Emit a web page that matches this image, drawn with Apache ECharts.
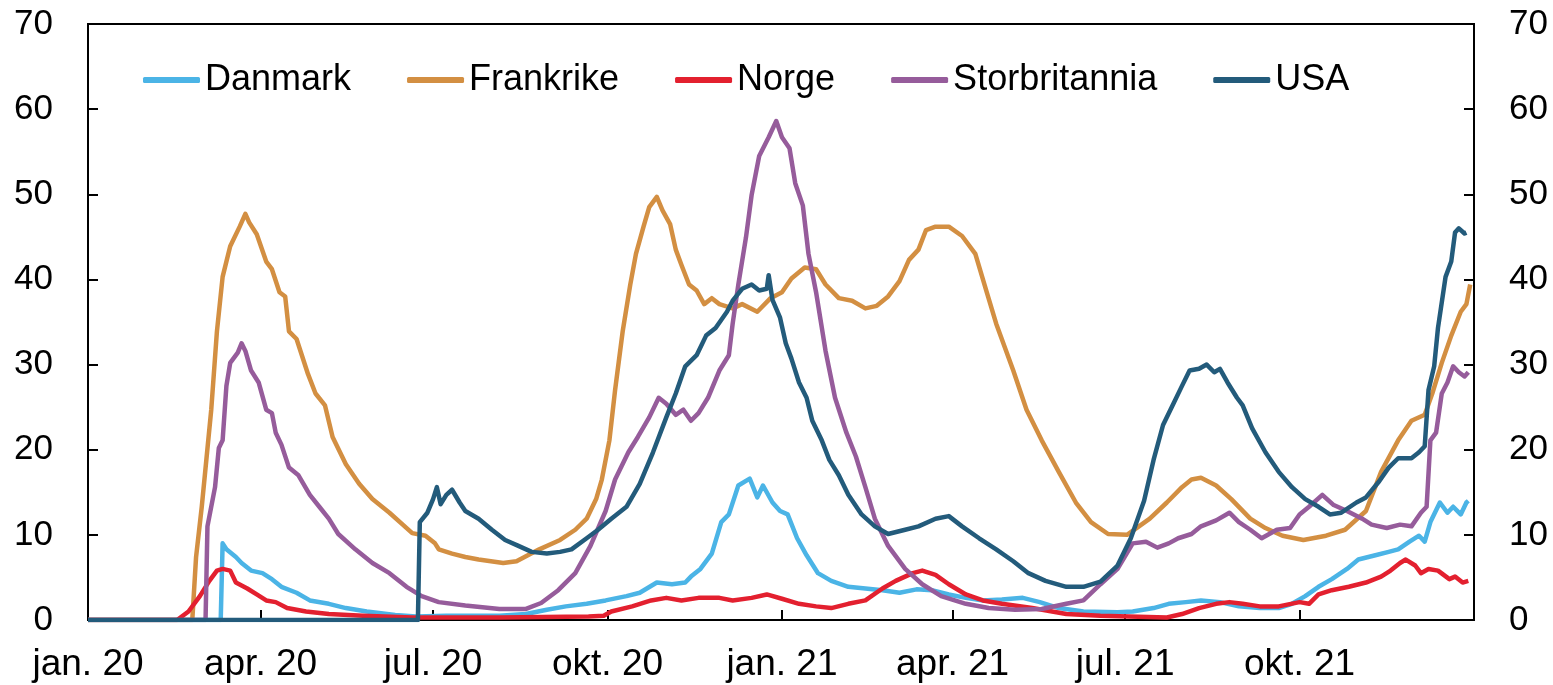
<!DOCTYPE html>
<html>
<head>
<meta charset="utf-8">
<script src="https://cdn.jsdelivr.net/npm/echarts@6/dist/echarts.min.js"></script>
<style>
  html, body { margin: 0; padding: 0; background: #fff; }
  #chart { width: 1553px; height: 685px; }
</style>
</head>
<body>
<div id="chart"></div>
<script>
// series names and colours
const names = ['Danmark', 'Frankrike', 'Norge', 'Storbritannia', 'USA'];
const colors = ['#4bb4e6', '#d38f42', '#e3202f', '#965c9b', '#235b7b'];

// x tick dates and their labels
const tickDates = ['2020-01-01', '2020-04-01', '2020-07-01', '2020-10-01',
                   '2021-01-01', '2021-04-01', '2021-07-01', '2021-10-01'];
const tickLabels = ['jan. 20', 'apr. 20', 'jul. 20', 'okt. 20',
                    'jan. 21', 'apr. 21', 'jul. 21', 'okt. 21'];

const danmark = [
  ['2020-01-01',0],['2020-03-11',0],['2020-03-12',9.0],['2020-03-14',8.3],['2020-03-19',7.4],['2020-03-22',6.7],
  ['2020-03-27',5.8],['2020-04-02',5.5],['2020-04-07',4.8],['2020-04-12',3.9],['2020-04-20',3.2],['2020-04-27',2.3],
  ['2020-05-07',1.9],['2020-05-16',1.4],['2020-05-27',1.0],['2020-06-11',0.6],['2020-06-22',0.4],['2020-07-08',0.5],
  ['2020-08-05',0.5],['2020-08-19',0.7],['2020-08-30',1.2],['2020-09-09',1.6],['2020-09-20',1.9],['2020-09-30',2.3],
  ['2020-10-11',2.8],['2020-10-18',3.2],['2020-10-27',4.4],['2020-11-04',4.2],['2020-11-11',4.4],['2020-11-14',5.1],
  ['2020-11-19',6.0],['2020-11-25',7.8],['2020-11-30',11.5],['2020-12-04',12.4],['2020-12-09',15.8],['2020-12-15',16.6],
  ['2020-12-19',14.4],['2020-12-22',15.8],['2020-12-27',13.8],['2020-12-31',12.8],['2021-01-04',12.4],['2021-01-09',9.6],
  ['2021-01-14',7.6],['2021-01-20',5.5],['2021-01-27',4.6],['2021-02-05',3.9],['2021-02-14',3.7],['2021-02-23',3.5],
  ['2021-03-04',3.2],['2021-03-13',3.6],['2021-03-21',3.5],['2021-03-30',3.0],['2021-04-08',2.6],['2021-04-17',2.3],
  ['2021-04-27',2.4],['2021-05-08',2.6],['2021-05-17',2.1],['2021-05-27',1.4],['2021-06-09',1.0],['2021-06-27',0.9],
  ['2021-07-05',1.0],['2021-07-16',1.4],['2021-07-24',1.9],['2021-08-02',2.1],['2021-08-10',2.3],['2021-08-20',2.1],
  ['2021-08-30',1.6],['2021-09-10',1.4],['2021-09-20',1.4],['2021-09-27',1.9],['2021-10-04',2.8],['2021-10-11',3.9],
  ['2021-10-18',4.8],['2021-10-26',6.0],['2021-11-01',7.1],['2021-11-10',7.6],['2021-11-17',8.0],['2021-11-22',8.3],
  ['2021-11-28',9.2],['2021-12-03',9.9],['2021-12-06',9.2],['2021-12-09',11.5],['2021-12-14',13.8],['2021-12-18',12.6],
  ['2021-12-21',13.3],['2021-12-25',12.4],['2021-12-28',13.8],['2021-12-29',14.0]
];

const frankrike = [
  ['2020-01-01',0],['2020-02-25',0],['2020-02-27',7.4],['2020-03-01',13.3],['2020-03-06',24.7],['2020-03-09',33.9],
  ['2020-03-12',40.3],['2020-03-16',43.9],['2020-03-21',46.2],['2020-03-24',47.7],['2020-03-26',46.7],['2020-03-30',45.3],
  ['2020-04-04',42.1],['2020-04-07',41.2],['2020-04-11',38.5],['2020-04-14',38.0],['2020-04-16',33.9],['2020-04-20',33.0],
  ['2020-04-26',28.9],['2020-04-30',26.6],['2020-05-05',25.2],['2020-05-09',21.5],['2020-05-16',18.3],['2020-05-23',16.0],
  ['2020-05-30',14.2],['2020-06-08',12.6],['2020-06-15',11.2],['2020-06-20',10.2],['2020-06-27',9.9],['2020-07-02',9.0],
  ['2020-07-04',8.3],['2020-07-11',7.8],['2020-07-18',7.4],['2020-07-25',7.1],['2020-08-07',6.7],['2020-08-14',6.9],
  ['2020-08-26',8.3],['2020-09-06',9.4],['2020-09-14',10.6],['2020-09-20',11.9],['2020-09-25',14.2],['2020-09-28',16.5],
  ['2020-10-02',21.1],['2020-10-05',27.0],['2020-10-09',33.9],['2020-10-13',39.4],['2020-10-16',43.0],['2020-10-20',46.2],
  ['2020-10-23',48.5],['2020-10-27',49.7],['2020-10-30',48.1],['2020-11-03',46.5],['2020-11-06',43.5],['2020-11-09',41.7],
  ['2020-11-13',39.4],['2020-11-17',38.7],['2020-11-21',37.1],['2020-11-25',37.8],['2020-11-29',37.1],['2020-12-06',36.6],
  ['2020-12-11',37.1],['2020-12-19',36.2],['2020-12-26',37.8],['2021-01-01',38.5],['2021-01-06',40.1],['2021-01-13',41.4],
  ['2021-01-19',41.2],['2021-01-24',39.4],['2021-01-31',37.8],['2021-02-07',37.5],['2021-02-14',36.6],['2021-02-20',36.9],
  ['2021-02-26',38.0],['2021-03-04',39.8],['2021-03-09',42.3],['2021-03-14',43.5],['2021-03-18',45.8],['2021-03-23',46.2],
  ['2021-03-30',46.2],['2021-04-06',45.1],['2021-04-13',43.0],['2021-04-19',38.5],['2021-04-24',34.8],['2021-05-03',29.3],
  ['2021-05-10',24.7],['2021-05-18',21.1],['2021-05-27',17.4],['2021-06-05',13.8],['2021-06-13',11.5],['2021-06-22',10.1],
  ['2021-07-02',10.0],['2021-07-14',11.9],['2021-07-23',13.8],['2021-07-31',15.6],['2021-08-05',16.5],['2021-08-10',16.7],
  ['2021-08-18',15.8],['2021-08-26',14.2],['2021-09-05',11.9],['2021-09-13',10.8],['2021-09-22',9.9],['2021-10-03',9.4],
  ['2021-10-15',9.9],['2021-10-25',10.6],['2021-11-05',12.8],['2021-11-13',17.4],['2021-11-22',21.1],['2021-11-29',23.4],
  ['2021-12-06',24.1],['2021-12-10',26.6],['2021-12-15',30.2],['2021-12-20',33.4],['2021-12-25',36.2],['2021-12-28',37.1],
  ['2021-12-30',39.4]
];

const norge = [
  ['2020-01-01',0],['2020-02-17',0],['2020-02-23',1.0],['2020-02-29',2.8],['2020-03-05',4.6],['2020-03-09',5.8],
  ['2020-03-12',6.0],['2020-03-16',5.8],['2020-03-19',4.4],['2020-03-25',3.7],['2020-03-30',3.0],['2020-04-04',2.3],
  ['2020-04-09',2.1],['2020-04-15',1.4],['2020-04-25',1.0],['2020-05-07',0.7],['2020-05-25',0.5],['2020-06-20',0.3],
  ['2020-08-05',0.3],['2020-09-21',0.4],['2020-09-29',0.5],['2020-10-03',1.0],['2020-10-14',1.6],['2020-10-24',2.3],
  ['2020-11-01',2.6],['2020-11-09',2.3],['2020-11-18',2.6],['2020-11-29',2.6],['2020-12-06',2.3],['2020-12-16',2.6],
  ['2020-12-24',3.0],['2021-01-01',2.5],['2021-01-10',1.9],['2021-01-19',1.6],['2021-01-27',1.4],['2021-02-05',1.9],
  ['2021-02-14',2.3],['2021-02-23',3.7],['2021-03-02',4.6],['2021-03-11',5.5],['2021-03-16',5.8],['2021-03-23',5.3],
  ['2021-03-30',4.2],['2021-04-08',3.0],['2021-04-17',2.3],['2021-04-27',1.9],['2021-05-13',1.4],['2021-05-31',0.7],
  ['2021-06-18',0.5],['2021-07-23',0.3],['2021-07-31',0.7],['2021-08-09',1.4],['2021-08-18',1.9],['2021-08-25',2.1],
  ['2021-09-01',1.9],['2021-09-10',1.6],['2021-09-20',1.6],['2021-10-01',2.1],['2021-10-06',1.9],['2021-10-11',3.0],
  ['2021-10-18',3.5],['2021-10-27',3.9],['2021-11-05',4.4],['2021-11-13',5.1],['2021-11-18',5.8],['2021-11-23',6.7],
  ['2021-11-26',7.1],['2021-12-01',6.4],['2021-12-04',5.5],['2021-12-08',6.0],['2021-12-13',5.8],['2021-12-19',4.8],
  ['2021-12-22',5.1],['2021-12-26',4.4],['2021-12-29',4.6]
];

const storbritannia = [
  ['2020-01-01',0],['2020-03-03',0],['2020-03-04',11.0],['2020-03-08',15.6],['2020-03-10',20.2],['2020-03-12',21.1],
  ['2020-03-14',27.5],['2020-03-16',30.2],['2020-03-20',31.4],['2020-03-22',32.5],['2020-03-24',31.6],['2020-03-27',29.3],
  ['2020-03-31',27.9],['2020-04-04',24.7],['2020-04-07',24.3],['2020-04-09',22.0],['2020-04-12',20.6],['2020-04-16',17.9],
  ['2020-04-21',17.0],['2020-04-27',14.7],['2020-05-02',13.3],['2020-05-07',11.9],['2020-05-12',10.1],['2020-05-21',8.3],
  ['2020-05-30',6.7],['2020-06-08',5.5],['2020-06-17',3.9],['2020-06-25',2.8],['2020-07-04',2.1],['2020-07-18',1.7],
  ['2020-08-05',1.3],['2020-08-19',1.3],['2020-08-27',2.0],['2020-09-05',3.5],['2020-09-14',5.5],['2020-09-22',8.7],
  ['2020-09-30',12.8],['2020-10-05',16.5],['2020-10-12',19.7],['2020-10-17',21.5],['2020-10-23',23.8],['2020-10-28',26.1],
  ['2020-11-01',25.4],['2020-11-06',24.1],['2020-11-10',24.7],['2020-11-14',23.4],['2020-11-18',24.3],['2020-11-23',26.1],
  ['2020-11-29',29.3],['2020-12-04',31.1],['2020-12-06',34.8],['2020-12-09',39.4],['2020-12-13',44.9],['2020-12-16',49.9],
  ['2020-12-20',54.5],['2020-12-25',56.7],['2020-12-29',58.6],['2021-01-01',56.7],['2021-01-05',55.4],['2021-01-08',51.3],
  ['2021-01-12',48.7],['2021-01-15',43.0],['2021-01-19',38.5],['2021-01-24',31.6],['2021-01-29',26.1],['2021-02-04',22.0],
  ['2021-02-09',19.2],['2021-02-14',15.6],['2021-02-19',11.9],['2021-02-26',8.7],['2021-03-07',6.0],['2021-03-16',4.2],
  ['2021-03-26',2.8],['2021-04-08',1.9],['2021-04-20',1.4],['2021-05-04',1.2],['2021-05-18',1.3],['2021-05-31',1.9],
  ['2021-06-09',2.3],['2021-06-18',4.2],['2021-06-27',6.0],['2021-07-05',9.0],['2021-07-12',9.2],['2021-07-18',8.5],
  ['2021-07-24',9.0],['2021-07-29',9.6],['2021-08-05',10.1],['2021-08-10',11.0],['2021-08-18',11.7],['2021-08-25',12.6],
  ['2021-08-30',11.5],['2021-09-05',10.6],['2021-09-11',9.6],['2021-09-19',10.6],['2021-09-26',10.8],['2021-10-01',12.4],
  ['2021-10-06',13.3],['2021-10-13',14.7],['2021-10-19',13.5],['2021-10-26',12.8],['2021-11-03',11.9],['2021-11-08',11.2],
  ['2021-11-16',10.8],['2021-11-23',11.2],['2021-11-29',11.0],['2021-12-04',12.6],['2021-12-07',13.3],['2021-12-09',21.1],
  ['2021-12-12',22.0],['2021-12-15',26.6],['2021-12-18',27.9],['2021-12-21',29.8],['2021-12-24',29.1],['2021-12-27',28.6],
  ['2021-12-29',29.1]
];

const usa = [
  ['2020-01-01',0],['2020-06-23',0],['2020-06-24',11.5],['2020-06-28',12.6],['2020-07-01',14.2],['2020-07-03',15.6],
  ['2020-07-05',13.6],['2020-07-08',14.7],['2020-07-11',15.3],['2020-07-15',13.8],['2020-07-18',12.8],['2020-07-25',11.9],
  ['2020-08-01',10.6],['2020-08-08',9.4],['2020-08-15',8.7],['2020-08-22',8.0],['2020-08-30',7.8],['2020-09-06',8.0],
  ['2020-09-12',8.3],['2020-09-20',9.6],['2020-09-26',10.6],['2020-10-03',11.9],['2020-10-11',13.3],['2020-10-18',16.0],
  ['2020-10-25',19.7],['2020-11-01',23.8],['2020-11-06',26.6],['2020-11-11',29.8],['2020-11-17',31.1],['2020-11-22',33.4],
  ['2020-11-27',34.3],['2020-12-03',36.2],['2020-12-06',37.5],['2020-12-11',38.9],['2020-12-16',39.4],['2020-12-20',38.7],
  ['2020-12-24',38.9],['2020-12-25',40.5],['2020-12-27',37.6],['2020-12-31',35.5],['2021-01-03',32.5],['2021-01-06',30.7],
  ['2021-01-10',27.9],['2021-01-14',26.1],['2021-01-17',23.4],['2021-01-22',21.1],['2021-01-26',18.8],['2021-01-31',17.0],
  ['2021-02-05',14.7],['2021-02-12',12.4],['2021-02-19',11.0],['2021-02-26',10.1],['2021-03-07',10.6],['2021-03-14',11.0],
  ['2021-03-23',11.9],['2021-03-30',12.2],['2021-04-06',11.0],['2021-04-15',9.6],['2021-04-24',8.3],['2021-05-03',6.9],
  ['2021-05-11',5.5],['2021-05-20',4.6],['2021-05-31',3.9],['2021-06-09',3.9],['2021-06-18',4.5],['2021-06-27',6.4],
  ['2021-07-04',9.6],['2021-07-11',14.0],['2021-07-16',18.8],['2021-07-21',22.9],['2021-07-26',25.2],['2021-07-31',27.5],
  ['2021-08-04',29.3],['2021-08-09',29.5],['2021-08-13',30.0],['2021-08-17',29.1],['2021-08-20',29.5],['2021-08-24',27.9],
  ['2021-08-29',26.1],['2021-09-01',25.2],['2021-09-06',22.5],['2021-09-13',19.7],['2021-09-20',17.4],['2021-09-27',15.6],
  ['2021-10-04',14.2],['2021-10-11',13.3],['2021-10-17',12.4],['2021-10-23',12.6],['2021-10-31',13.8],['2021-11-05',14.4],
  ['2021-11-12',16.3],['2021-11-17',17.9],['2021-11-22',19.0],['2021-11-29',19.0],['2021-12-03',19.7],['2021-12-06',20.4],
  ['2021-12-08',27.0],['2021-12-11',29.8],['2021-12-13',34.3],['2021-12-17',40.3],['2021-12-20',42.1],['2021-12-22',45.5],
  ['2021-12-24',46.0],['2021-12-27',45.4],['2021-12-28',45.5]
];

const seriesData = [danmark, frankrike, norge, storbritannia, usa];

// dates become day numbers so a plain value axis can carry custom ticks
const DAY = 86400000;
function toDay(s) {
  const p = s.split('-');
  return Math.round(Date.UTC(+p[0], +p[1] - 1, +p[2]) / DAY);
}

const tickDays = tickDates.map(toDay);
const labelByDay = {};
tickDays.forEach(function (d, i) { labelByDay[d] = tickLabels[i]; });

const font = 'Liberation Sans, Arial, sans-serif';

function yAxisOpt(pos) {
  return {
    type: 'value',
    position: pos,
    min: 0,
    max: 70,
    interval: 10,
    axisLine: { show: true, lineStyle: { color: '#000', width: 2 } },
    axisTick: { show: true, inside: true, length: 10, lineStyle: { color: '#000', width: 2 } },
    axisLabel: { color: '#000', fontSize: 35, fontFamily: font, margin: 35 },
    splitLine: { show: false }
  };
}

let chart = echarts.init(document.getElementById('chart'));
let option = {
  animation: false,
  backgroundColor: '#fff',
  color: colors,
  grid: {
    left: 88, right: 79, top: 24, bottom: 65,
    show: true, borderColor: '#000', borderWidth: 2,
    containLabel: false
  },
  legend: {
    data: names,
    left: 143,
    top: 62,
    padding: 0,
    icon: 'roundRect',
    itemWidth: 57,
    itemHeight: 6,
    itemGap: 56,
    textStyle: { color: '#000', fontSize: 36, fontFamily: font }
  },
  xAxis: {
    type: 'value',
    min: toDay('2020-01-01'),
    max: toDay('2022-01-01'),
    axisLine: { show: true, onZero: false, lineStyle: { color: '#000', width: 2 } },
    axisTick: { show: true, inside: true, length: 10, customValues: tickDays, lineStyle: { color: '#000', width: 2 } },
    axisLabel: {
      customValues: tickDays,
      showMinLabel: true,
      color: '#000', fontSize: 37, fontFamily: font, margin: 26,
      formatter: function (v) { return labelByDay[v] || ''; }
    },
    splitLine: { show: false }
  },
  yAxis: [yAxisOpt('left'), yAxisOpt('right')],
  series: names.map(function (n, i) {
    return {
      name: n,
      type: 'line',
      showSymbol: false,
      symbol: 'none',
      data: seriesData[i].map(function (p) { return [toDay(p[0]), p[1]]; }),
      lineStyle: { width: 4.5, color: colors[i], join: 'round' },
      itemStyle: { color: colors[i] }
    };
  })
};
chart.setOption(option);
</script>
</body>
</html>
